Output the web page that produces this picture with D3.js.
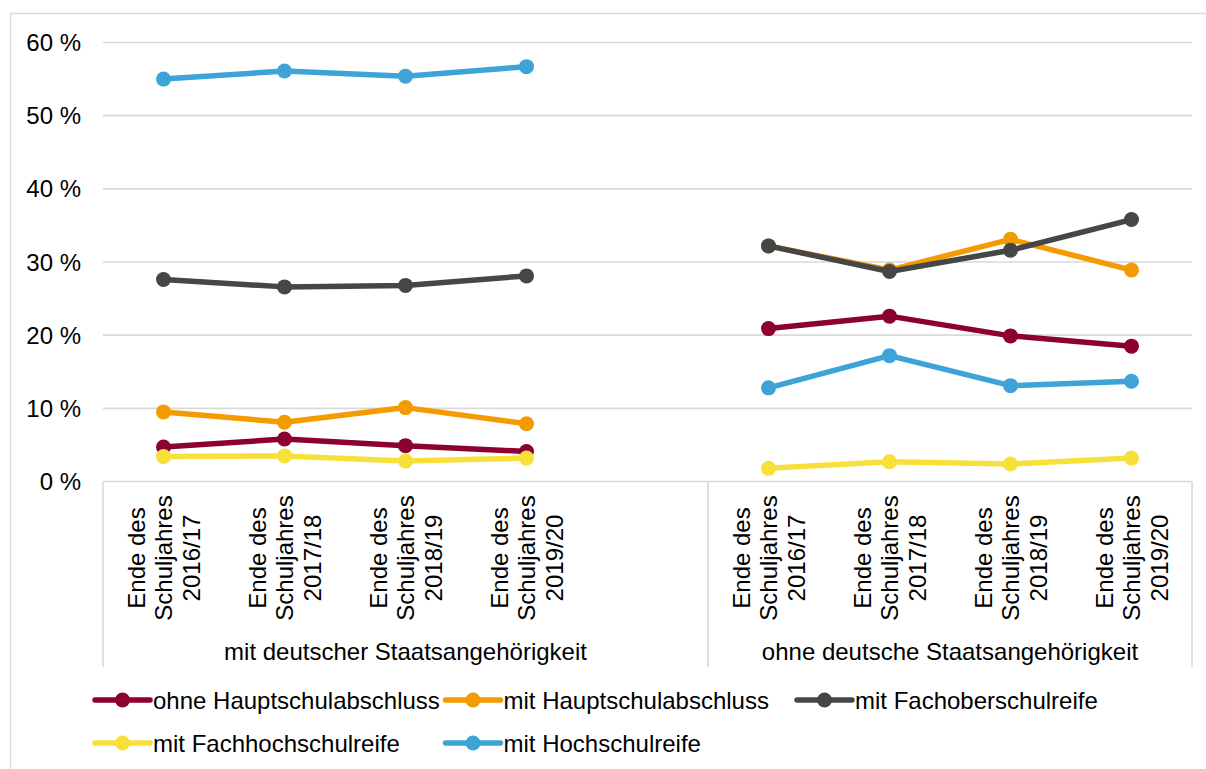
<!DOCTYPE html>
<html>
<head>
<meta charset="utf-8">
<script src="https://cdn.jsdelivr.net/npm/d3@7"></script>
<style>
  body { margin: 0; background: #fff; }
  text { font-family: "Liberation Sans", Arial, sans-serif; fill: #000; }
</style>
</head>
<body>
<svg class="chart"></svg>
<script>
"use strict";

var width  = 1206,
    height = 769;

// Data
var groups = ["mit deutscher Staatsangehörigkeit", "ohne deutsche Staatsangehörigkeit"];
var years  = ["2016/17", "2017/18", "2018/19", "2019/20"];
var seriesNames = ["ohne Hauptschulabschluss", "mit Hauptschulabschluss", "mit Fachoberschulreife",
                   "mit Fachhochschulreife", "mit Hochschulreife"];
var colors = ["#8c0032", "#f39b00", "#464646", "#f8e03b", "#3ea4d8"];

var ohneHSA_de   = [4.7, 5.8, 4.9, 4.1],     ohneHSA_aus   = [20.9, 22.6, 19.9, 18.5];
var mitHSA_de    = [9.5, 8.1, 10.1, 7.9],    mitHSA_aus    = [32.2, 28.9, 33.1, 28.9];
var fos_de       = [27.6, 26.6, 26.8, 28.1], fos_aus       = [32.2, 28.7, 31.6, 35.8];
var fhr_de       = [3.4, 3.5, 2.8, 3.2],     fhr_aus       = [1.8, 2.7, 2.4, 3.2];
var hsr_de       = [55.0, 56.1, 55.4, 56.7], hsr_aus       = [12.8, 17.2, 13.1, 13.7];

var yTicks = [0, 10, 20, 30, 40, 50, 60];

var seriesData = [
    [ohneHSA_de, ohneHSA_aus],
    [mitHSA_de, mitHSA_aus],
    [fos_de, fos_aus],
    [fhr_de, fhr_aus],
    [hsr_de, hsr_aus]
];

// slots: 4 years + one empty slot in first group, 4 years in second
var slots = [];
years.forEach(function(y, i) { slots.push("0-" + i); });
slots.push("0-empty");
years.forEach(function(y, i) { slots.push("1-" + i); });

// Setup
var chart = d3.select(".chart")
              .attr("width", width)
              .attr("height", height);

var fontSize = 24;

chart.append("rect")
     .attr("x", 10.5).attr("y", 13.5)
     .attr("width", 1300).attr("height", 900)
     .attr("fill", "#fff")
     .attr("stroke", "#d9d9d9")
     .attr("stroke-width", 1.5);

var x = d3.scaleBand()
          .domain(slots)
          .range([103, 1192]);

var y = d3.scaleLinear()
          .domain([0, 60])
          .range([481.5, 42.5]);

// gridlines
chart.append("g").attr("class", "grid")
     .selectAll("line")
     .data(yTicks)
     .enter().append("line")
        .attr("x1", 103).attr("x2", 1192)
        .attr("y1", y).attr("y2", y)
        .attr("stroke", "#d9d9d9")
        .attr("stroke-width", 1.6);

// y labels
chart.append("g").attr("class", "ylabels")
     .selectAll("text")
     .data(yTicks)
     .enter().append("text")
        .attr("x", 81)
        .attr("y", y)
        .attr("dy", "0.36em")
        .attr("text-anchor", "end")
        .style("font-size", fontSize + "px")
        .text(function(d) { return d + "\u00a0%"; });

// group separators
var sepX = [103, x("1-0"), 1192];
chart.append("g").selectAll("line")
     .data(sepX)
     .enter().append("line")
        .attr("x1", function(d) { return d; }).attr("x2", function(d) { return d; })
        .attr("y1", 481.5).attr("y2", 667)
        .attr("stroke", "#d9d9d9")
        .attr("stroke-width", 1.6);

// category tick labels
var tickG = chart.append("g").attr("class", "ticks");
groups.forEach(function(g, gi) {
    years.forEach(function(yr, i) {
        var cx = x(gi + "-" + i) + x.bandwidth() / 2;
        var t = tickG.append("text")
                     .attr("transform", "translate(" + cx + ", 558) rotate(-90)")
                     .attr("text-anchor", "middle")
                     .style("font-size", fontSize + "px");
        ["Ende des", "Schuljahres", yr].forEach(function(line, li) {
            t.append("tspan")
             .attr("x", 0)
             .attr("y", (li - 1) * 27.5)
             .attr("dy", "0.36em")
             .text(line);
        });
    });
});

// group labels
var groupCenters = [(103 + x("1-0")) / 2, (x("1-0") + 1192) / 2];
chart.append("g").selectAll("text")
     .data(groups)
     .enter().append("text")
        .attr("x", function(d, i) { return groupCenters[i]; })
        .attr("y", 660)
        .attr("text-anchor", "middle")
        .style("font-size", fontSize + "px")
        .text(function(d) { return d; });

// lines
var line = d3.line()
             .x(function(d) { return x(d.slot) + x.bandwidth() / 2; })
             .y(function(d) { return y(d.value); });

seriesData.forEach(function(s, si) {
    var sg = chart.append("g").attr("class", "series");
    s.forEach(function(vals, gi) {
        var pts = vals.map(function(v, i) { return {slot: gi + "-" + i, value: v}; });
        sg.append("path")
          .attr("d", line(pts))
          .attr("fill", "none")
          .attr("stroke", colors[si])
          .attr("stroke-width", 5.5)
          .attr("stroke-linejoin", "round");
        sg.selectAll("circle.g" + gi)
          .data(pts)
          .enter().append("circle")
            .attr("class", "g" + gi)
            .attr("cx", function(d) { return x(d.slot) + x.bandwidth() / 2; })
            .attr("cy", function(d) { return y(d.value); })
            .attr("r", 7.5)
            .attr("fill", colors[si]);
    });
});

// legend
var legendPos = [[95, 700], [445.5, 700], [797, 700], [95, 743], [445.5, 743]];
var legend = chart.append("g").attr("class", "legend")
                  .selectAll("g")
                  .data(seriesNames)
                  .enter().append("g")
                     .attr("transform", function(d, i) {
                         return "translate(" + legendPos[i][0] + ", " + legendPos[i][1] + ")";
                     });
legend.append("line")
      .attr("x1", 0).attr("x2", 55)
      .attr("y1", 0).attr("y2", 0)
      .attr("stroke", function(d, i) { return colors[i]; })
      .attr("stroke-width", 5.5)
      .attr("stroke-linecap", "round");
legend.append("circle")
      .attr("cx", 27.5).attr("cy", 0)
      .attr("r", 7.5)
      .attr("fill", function(d, i) { return colors[i]; });
legend.append("text")
      .attr("x", 58)
      .attr("y", 0)
      .attr("dy", "0.36em")
      .style("font-size", fontSize + "px")
      .text(function(d) { return d; });
</script>
</body>
</html>
